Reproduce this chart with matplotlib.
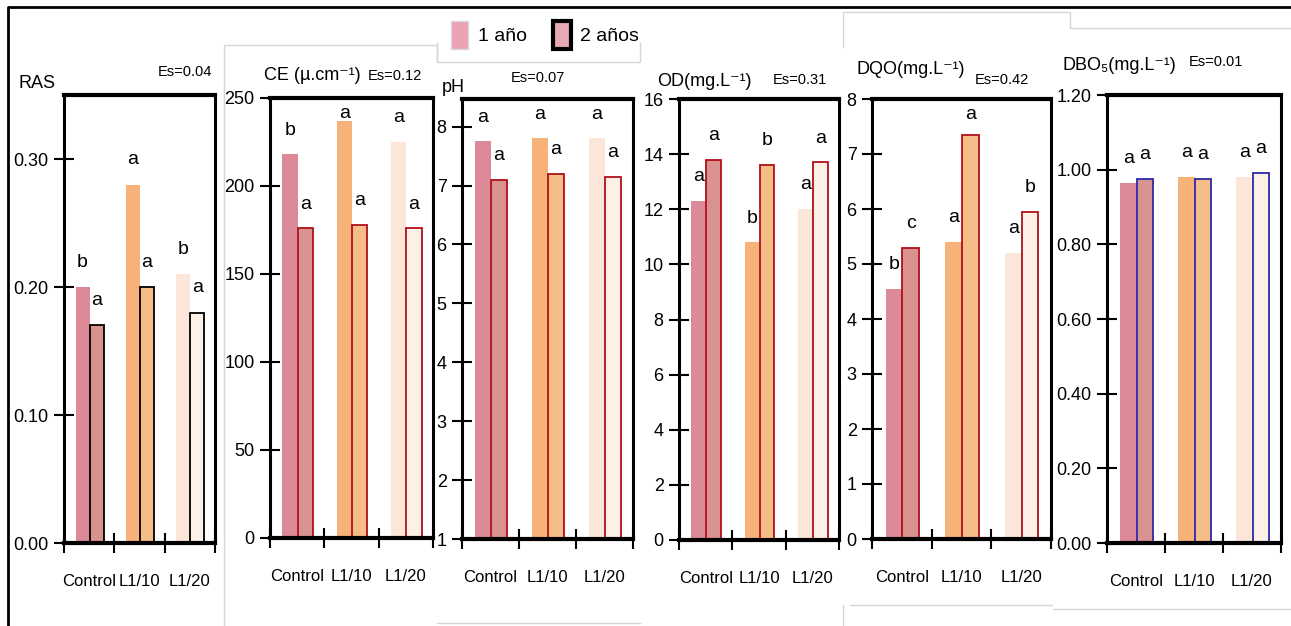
import matplotlib
matplotlib.use("Agg")
import matplotlib.pyplot as plt
import numpy as np
from matplotlib import font_manager
from matplotlib.patches import Patch
from matplotlib.lines import Line2D

# narrow sans if present, otherwise the normal one
installed = {f.name for f in font_manager.fontManager.ttflist}
if "Liberation Sans Narrow" in installed:
    plt.rcParams["font.family"] = ["Liberation Sans Narrow", "DejaVu Sans"]
else:
    plt.rcParams["font.family"] = ["Liberation Sans", "DejaVu Sans"]

groups = ["Control", "L1/10", "L1/20"]

# 1 año / 2 años means per parameter
ras_1 = [0.20, 0.28, 0.21]
ras_2 = [0.17, 0.20, 0.18]
ras_let_1 = ["b", "a", "b"]
ras_let_2 = ["a", "a", "a"]

ce_1 = [218, 237, 225]
ce_2 = [176, 178, 176]
ce_let_1 = ["b", "a", "a"]
ce_let_2 = ["a", "a", "a"]

ph_1 = [7.75, 7.8, 7.8]
ph_2 = [7.1, 7.2, 7.15]
ph_let_1 = ["a", "a", "a"]
ph_let_2 = ["a", "a", "a"]

od_1 = [12.3, 10.8, 12.0]
od_2 = [13.8, 13.6, 13.7]
od_let_1 = ["a", "b", "a"]
od_let_2 = ["a", "b", "a"]

dqo_1 = [4.55, 5.4, 5.2]
dqo_2 = [5.3, 7.35, 5.95]
dqo_let_1 = ["b", "a", "a"]
dqo_let_2 = ["c", "a", "b"]

dbo_1 = [0.965, 0.98, 0.98]
dbo_2 = [0.975, 0.975, 0.99]
dbo_let_1 = ["a", "a", "a"]
dbo_let_2 = ["a", "a", "a"]

es_values = ["0.04", "0.12", "0.07", "0.31", "0.42", "0.01"]

colors_1 = ["#dc8a98", "#f7b27a", "#fce6da"]
colors_2 = ["#d8928f", "#f5bd88", "#fdf1e7"]

W, H = 1291, 626
fig = plt.figure(figsize=(W / 100, H / 100), dpi=100)


def fig_box(x0, x1, top, bottom):
    return [x0 / W, 1 - bottom / H, (x1 - x0) / W, (bottom - top) / H]


def fig_xy(x, y):
    return x / W, 1 - y / H


def fig_line(xs, ys, color="#d6d6d6", lw=1.0):
    fx = [x / W for x in xs]
    fy = [1 - y / H for y in ys]
    fig.add_artist(Line2D(fx, fy, color=color, lw=lw, transform=fig.transFigure))


# light frames of the pasted panels
fig_line([224, 224, 437, 437], [626, 45, 45, 60])
fig_line([437, 437, 640, 640], [43, 62, 62, 43])
fig_line([437, 640], [623, 623])
fig_line([843, 843, 850, 1070, 1070, 1291], [47, 12, 12, 12, 28, 28])
fig_line([850, 1052], [605, 605])
fig_line([1053, 1291], [609, 609])
fig_line([843, 843], [605, 626])

# outer frame
fig_line([8, 8, 1291], [626, 7, 7], color="black", lw=2)

panels = [
    dict(v1=ras_1, v2=ras_2, l1=ras_let_1, l2=ras_let_2, box=(64, 215, 95, 543),
         ylim=(0, 0.35), ticks=[0.0, 0.1, 0.2, 0.3], fmt="{:.2f}", edge="black",
         title="RAS", tpos=(18, 84), epos=(158, 72)),
    dict(v1=ce_1, v2=ce_2, l1=ce_let_1, l2=ce_let_2, box=(270, 433, 98, 538),
         ylim=(0, 250), ticks=[0, 50, 100, 150, 200, 250], fmt="{:.0f}", edge="#b0101a",
         title="CE (\u00b5.cm\u207b\u00b9)", tpos=(264, 76), epos=(368, 76)),
    dict(v1=ph_1, v2=ph_2, l1=ph_let_1, l2=ph_let_2, box=(462, 633, 99, 539),
         ylim=(1, 8.47), ticks=[1, 2, 3, 4, 5, 6, 7, 8], fmt="{:.0f}", edge="#b0101a",
         title="pH", tpos=(442, 88), epos=(511, 78)),
    dict(v1=od_1, v2=od_2, l1=od_let_1, l2=od_let_2, box=(679, 839, 99, 540),
         ylim=(0, 16), ticks=[0, 2, 4, 6, 8, 10, 12, 14, 16], fmt="{:.0f}", edge="#b0101a",
         title="OD(mg.L\u207b\u00b9)", tpos=(657, 81), epos=(773, 80)),
    dict(v1=dqo_1, v2=dqo_2, l1=dqo_let_1, l2=dqo_let_2, box=(872, 1051, 99, 539),
         ylim=(0, 8), ticks=[0, 1, 2, 3, 4, 5, 6, 7, 8], fmt="{:.0f}", edge="#b0101a",
         title="DQO(mg.L\u207b\u00b9)", tpos=(857, 70), epos=(975, 80)),
    dict(v1=dbo_1, v2=dbo_2, l1=dbo_let_1, l2=dbo_let_2, box=(1107, 1281, 95, 543),
         ylim=(0, 1.2), ticks=[0.0, 0.2, 0.4, 0.6, 0.8, 1.0, 1.2], fmt="{:.2f}", edge="#2a2aa8",
         title="DBO\u2085(mg.L\u207b\u00b9)", tpos=(1063, 65), epos=(1189, 62)),
]

x = np.arange(len(groups)) + 0.5
bw = 0.28

for p, es in zip(panels, es_values):
    ax = fig.add_axes(fig_box(*p["box"]))
    lo, hi = p["ylim"]
    ax.bar(x - 0.13, p["v1"], bw, bottom=0, color=colors_1, edgecolor="none", zorder=2)
    ax.bar(x + 0.15, p["v2"], bw, bottom=0, color=colors_2, edgecolor=p["edge"],
           linewidth=1.3, zorder=2)

    # significance letters just above each bar, kept inside the frame
    pad = 0.055 * (hi - lo)
    top = hi - 0.035 * (hi - lo)
    for xi, v, t in zip(x - 0.13, p["v1"], p["l1"]):
        ax.text(xi, min(v + pad, top), t, ha="center", va="center", fontsize=14, zorder=3)
    for xi, v, t in zip(x + 0.15, p["v2"], p["l2"]):
        ax.text(xi, min(v + pad, top), t, ha="center", va="center", fontsize=14, zorder=3)

    ax.set_xlim(0, 3)
    ax.set_ylim(lo, hi)
    ax.set_yticks(p["ticks"])
    ax.set_yticklabels([p["fmt"].format(t) for t in p["ticks"]])
    ax.set_xticks([0, 1, 2, 3])
    ax.set_xticklabels([])
    ax.set_xticks(x, minor=True)
    ax.set_xticklabels(groups, minor=True)
    ax.tick_params(axis="y", direction="inout", length=14, width=1.5, pad=4,
                   labelsize=13, colors="black")
    ax.tick_params(axis="x", which="major", direction="inout", length=14, width=1.5)
    ax.tick_params(axis="x", which="minor", length=0, pad=22, labelsize=12)
    for side in ["left", "right"]:
        ax.spines[side].set_linewidth(2.2)
    ax.spines["top"].set_linewidth(3)
    ax.spines["bottom"].set_linewidth(3)
    ax.set_facecolor("white")

    fig.text(*fig_xy(*p["tpos"]), p["title"], fontsize=13, va="center", ha="left")
    fig.text(*fig_xy(*p["epos"]), "Es=" + es, fontsize=10.5, va="center", ha="left")

handles = [
    Patch(facecolor="#eaa3b3", edgecolor="#d8d8d8", linewidth=1),
    Patch(facecolor="#e6aab4", edgecolor="black", linewidth=3),
]
fig.legend(handles, ["1 año", "2 años"], ncol=2, frameon=False, fontsize=14,
           loc="center", bbox_to_anchor=fig_xy(545, 35), handlelength=0.9,
           handleheight=1.8, columnspacing=1.35, handletextpad=0.5)

fig.savefig("out.png", dpi=100)
